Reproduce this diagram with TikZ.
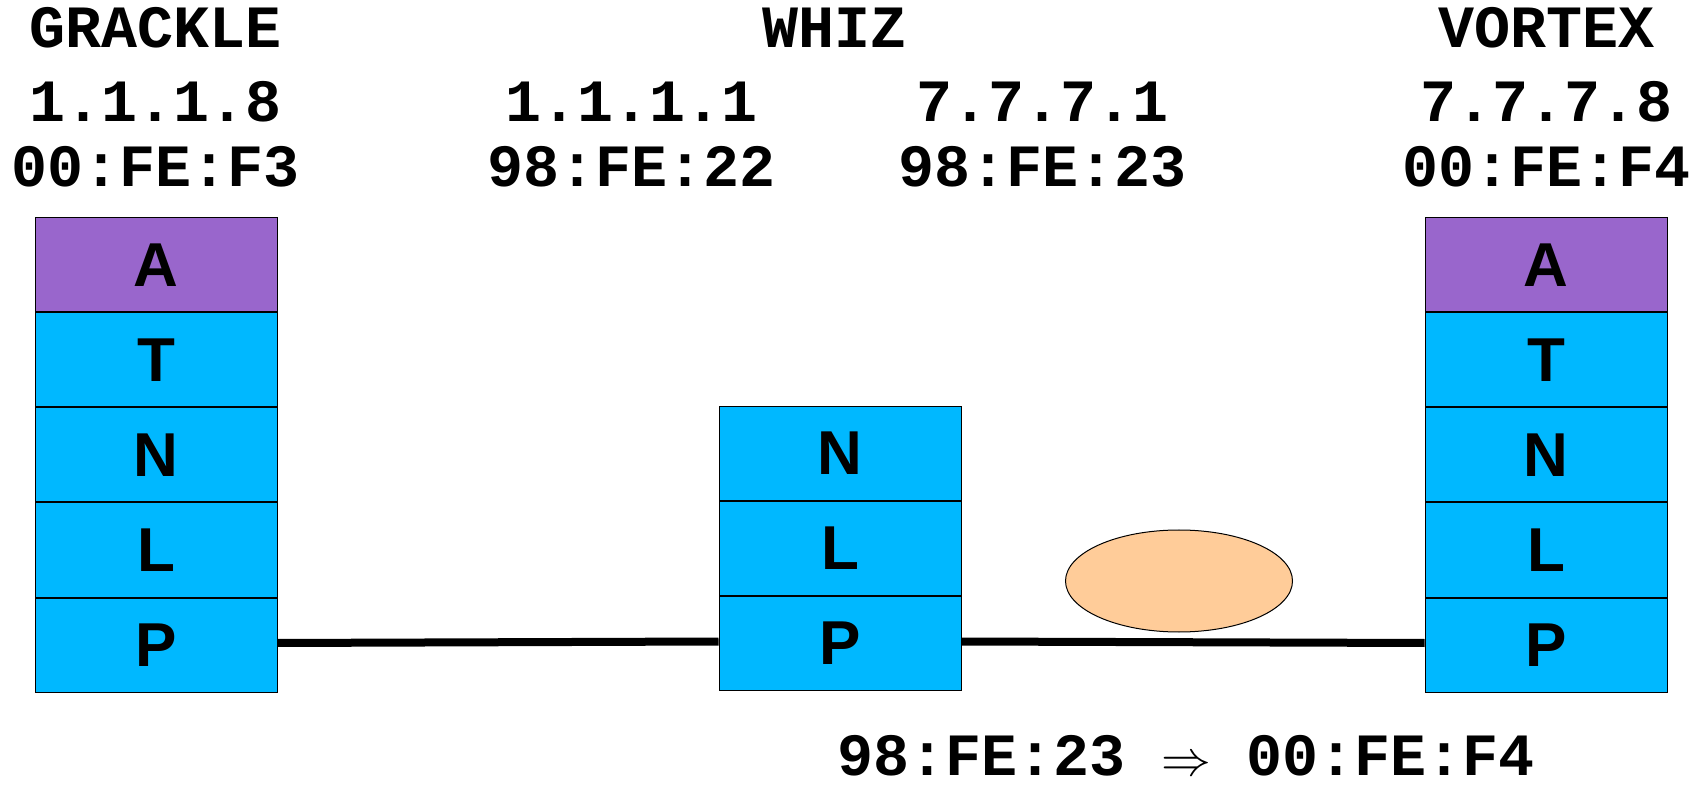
\documentclass[tikz,border=0pt]{standalone}
\usepackage{fontspec}
\usetikzlibrary{positioning,shapes.geometric}

\newfontfamily\stackfamily{Liberation Sans}
\newfontfamily\addrfamily{Liberation Mono}

\definecolor{appviolet}{RGB}{153,102,204}
\definecolor{stackcyan}{RGB}{0,184,255}
\definecolor{framepeach}{RGB}{255,204,153}

\tikzset{
  layer/.style={draw=black, line width=0.5pt, minimum width=121pt, minimum height=47pt,
    inner sep=0pt, font=\stackfamily\bfseries\fontsize{31}{31}\selectfont},
  app/.style={layer, fill=appviolet},
  low/.style={layer, fill=stackcyan},
  addr/.style={anchor=base, inner sep=0pt, font=\addrfamily\bfseries\fontsize{30}{30}\selectfont},
  wire/.style={line width=4pt},
}

\begin{document}
\begin{tikzpicture}[x=0.5pt,y=-0.5pt]
    \useasboundingbox (0,0) rectangle (1702,785);

    % Host stack (left)
    \node [app] (gA) at (156,265) {A};
    \node [low, below=0pt of gA] (gT) {T};
    \node [low, below=0pt of gT] (gN) {N};
    \node [low, below=0pt of gN] (gL) {L};
    \node [low, below=0pt of gL] (gP) {P};

    % Router stack (middle)
    \node [low] (wN) at (840,453.5) {N};
    \node [low, below=0pt of wN] (wL) {L};
    \node [low, below=0pt of wL] (wP) {P};

    % Host stack (right)
    \node [app] (vA) at (1546,265) {A};
    \node [low, below=0pt of vA] (vT) {T};
    \node [low, below=0pt of vT] (vN) {N};
    \node [low, below=0pt of vN] (vL) {L};
    \node [low, below=0pt of vL] (vP) {P};

    % Links
    \draw [wire] ([yshift=1pt]gP.east) -- ([yshift=1pt]wP.west);
    \draw [wire] ([yshift=1pt]wP.east) -- ([yshift=1pt]vP.west);

    % Frame on the second link
    \node [ellipse, draw=black, line width=0.5pt, fill=framepeach, minimum width=113.5pt,
      minimum height=51pt] (pkt) at (1179,581) {};

    % Names and addresses
    \node [addr] (gName) at (156,48) {GRACKLE};
    \node [addr] (gIp) at (156,122) {1.1.1.8};
    \node [addr] (gMac) at (156,187) {00:FE:F3};

    \node [addr] (wName) at (835,48) {WHIZ};
    \node [addr] (wIpA) at (632,122) {1.1.1.1};
    \node [addr] (wMacA) at (632,187) {98:FE:22};
    \node [addr] (wIpB) at (1043,122) {7.7.7.1};
    \node [addr] (wMacB) at (1043,187) {98:FE:23};

    \node [addr] (vName) at (1546,48) {VORTEX};
    \node [addr] (vIp) at (1547,122) {7.7.7.8};
    \node [addr] (vMac) at (1547,187) {00:FE:F4};

    % Frame header
    \node [addr] (hop) at (1186,775) {98:FE:23 $\Rightarrow$ 00:FE:F4};

\end{tikzpicture}
\end{document}
